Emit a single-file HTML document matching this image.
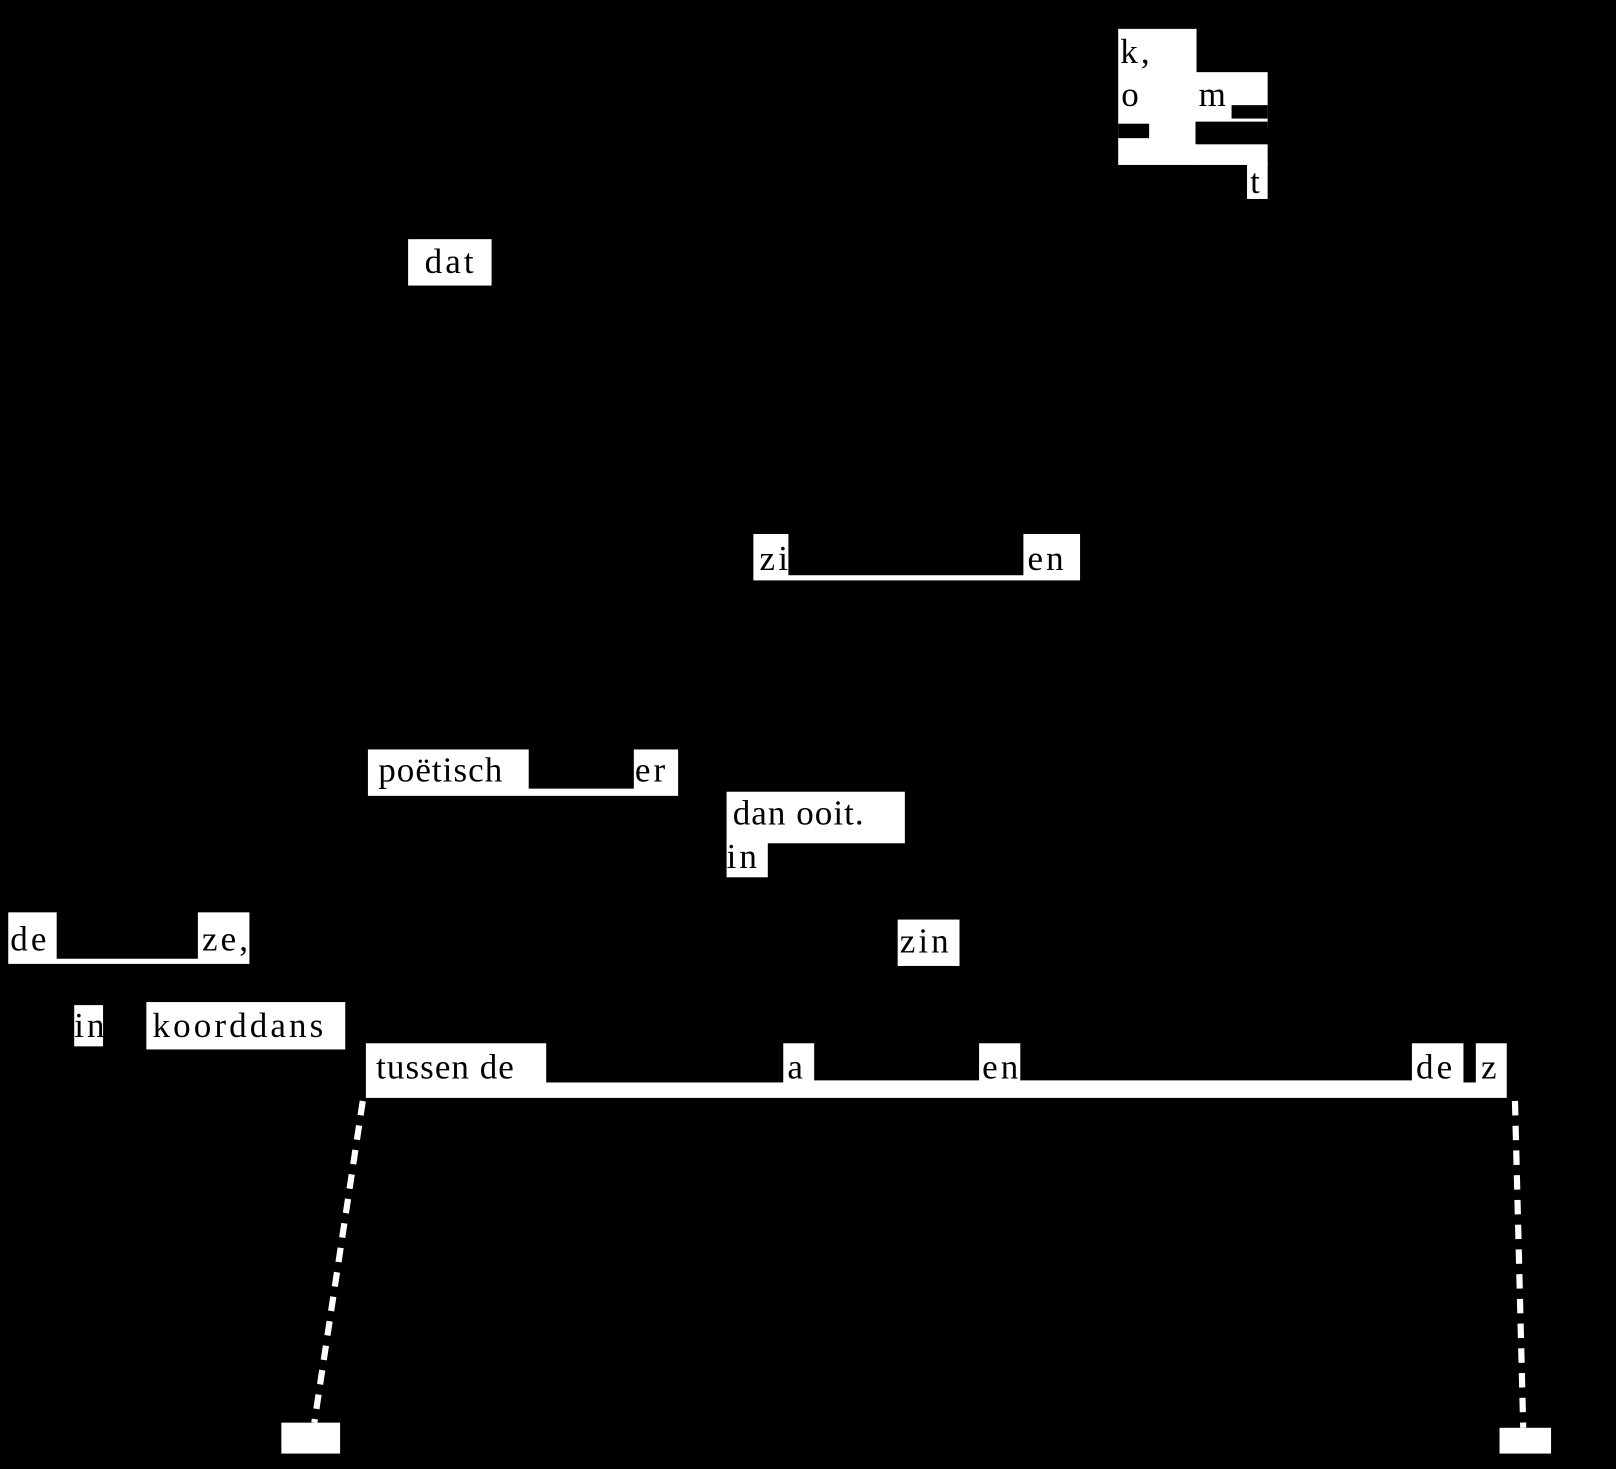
<!DOCTYPE html>
<html><head><style>
html,body{margin:0;padding:0;background:#000;width:1616px;height:1469px;overflow:hidden}
#f{position:absolute;left:0;top:0;width:1568px;height:1425px;transform:scale(1.0306,1.0309);transform-origin:0 0}
.w{position:absolute;background:#fff}
.b{position:absolute;background:#000}
.t{position:absolute;font-family:"Liberation Serif",serif;font-size:34px;letter-spacing:3px;color:#000;line-height:1;white-space:nowrap}
</style></head><body><div id="f">
<div class="w" style="left:1085px;top:28px;width:76px;height:132px"></div>
<div class="w" style="left:1160px;top:70px;width:70px;height:55px"></div>
<div class="b" style="left:1195px;top:102px;width:35px;height:13px"></div>
<div class="b" style="left:1160px;top:118px;width:70px;height:22px"></div>
<div class="w" style="left:1160px;top:140px;width:70px;height:20px"></div>
<div class="b" style="left:1085px;top:120px;width:30px;height:14px"></div>
<div class="w" style="left:1210px;top:158px;width:20px;height:35px"></div>
<div class="t" style="left:1087px;top:34px">k,</div>
<div class="t" style="left:1088px;top:76px">o</div>
<div class="t" style="left:1163px;top:76px">m</div>
<div class="t" style="left:1213px;top:160px">t</div>
<div class="w" style="left:396px;top:232px;width:81px;height:45px"></div>
<div class="t" style="left:412px;top:238px">dat</div>
<div class="w" style="left:731px;top:518px;width:317px;height:45px"></div>
<div class="b" style="left:765px;top:516px;width:228px;height:42px"></div>
<div class="t" style="left:737px;top:526px">zi</div>
<div class="t" style="left:997px;top:526px">en</div>
<div class="w" style="left:357px;top:727px;width:301px;height:45px"></div>
<div class="b" style="left:513px;top:725px;width:102px;height:40px"></div>
<div class="t" style="left:367px;top:731px;letter-spacing:1px">poëtisch</div>
<div class="t" style="left:616px;top:731px">er</div>
<div class="w" style="left:705px;top:768px;width:173px;height:50px"></div>
<div class="w" style="left:705px;top:816px;width:40px;height:35px"></div>
<div class="t" style="left:711px;top:773px;letter-spacing:1px">dan&nbsp;ooit.</div>
<div class="t" style="left:705px;top:815px">in</div>
<div class="w" style="left:8px;top:885px;width:234px;height:50px"></div>
<div class="b" style="left:55px;top:883px;width:137px;height:47px"></div>
<div class="t" style="left:10px;top:895px">de</div>
<div class="t" style="left:196px;top:895px">ze,</div>
<div class="w" style="left:871px;top:892px;width:60px;height:45px"></div>
<div class="t" style="left:873px;top:897px">zin</div>
<div class="w" style="left:72px;top:975px;width:28px;height:40px"></div>
<div class="t" style="left:72px;top:979px">in</div>
<div class="w" style="left:142px;top:972px;width:193px;height:46px"></div>
<div class="t" style="left:148px;top:979px">koorddans</div>
<div class="w" style="left:355px;top:1012px;width:1107px;height:53px"></div>
<div class="b" style="left:530px;top:1010px;width:230px;height:40px"></div>
<div class="b" style="left:790px;top:1010px;width:160px;height:38px"></div>
<div class="b" style="left:990px;top:1010px;width:380px;height:38px"></div>
<div class="b" style="left:1420px;top:1010px;width:12px;height:40px"></div>
<div class="t" style="left:365px;top:1019px;letter-spacing:1px">tussen de</div>
<div class="t" style="left:764px;top:1019px">a</div>
<div class="t" style="left:953px;top:1019px">en</div>
<div class="t" style="left:1374px;top:1019px">de</div>
<div class="t" style="left:1437px;top:1019px">z</div>
<svg style="position:absolute;left:0;top:0" width="1568" height="1425">
<line x1="352" y1="1068" x2="305" y2="1380" stroke="#fff" stroke-width="6" stroke-dasharray="14 10"/>
<line x1="1470" y1="1068" x2="1478" y2="1385" stroke="#fff" stroke-width="6" stroke-dasharray="14 10"/>
</svg>
<div class="w" style="left:273px;top:1380px;width:57px;height:30px"></div>
<div class="w" style="left:1455px;top:1385px;width:50px;height:25px"></div>
</div></body></html>
